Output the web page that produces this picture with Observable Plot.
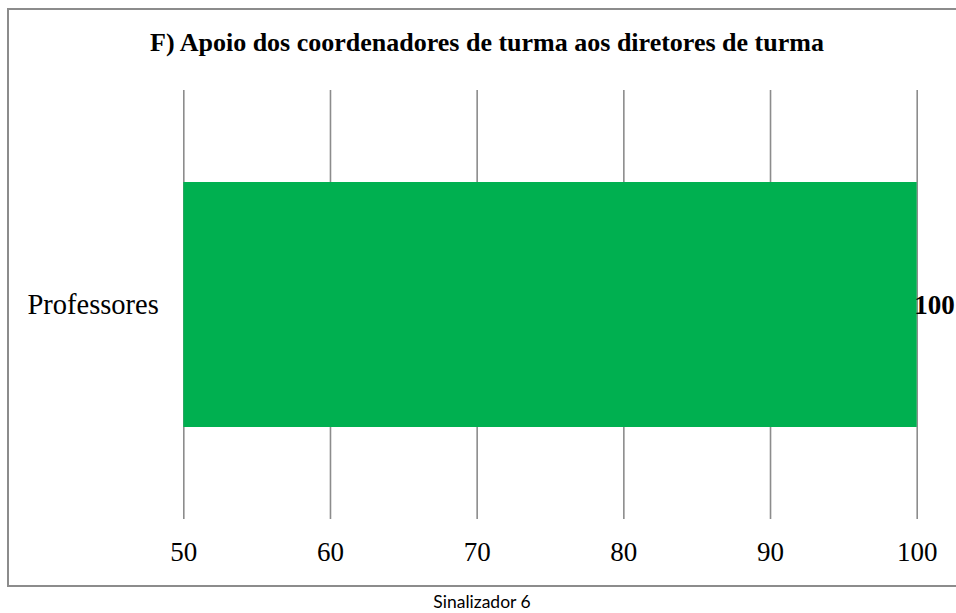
<!DOCTYPE html>
<html>
<head>
<meta charset="utf-8">
<script src="https://cdn.jsdelivr.net/npm/d3@7"></script>
<script src="https://cdn.jsdelivr.net/npm/@observablehq/plot@0.6"></script>
<style>
  html, body { margin: 0; padding: 0; background: #fff; }
  #wrap { position: relative; width: 956px; height: 613px; overflow: hidden; }
  #frame { position: absolute; left: 7px; top: 8px; width: 1000px; height: 575px; border: 2px solid #8c8c8c; box-sizing: content-box; }
  #title { position: absolute; left: 487px; top: 30px; transform: translateX(-50%); white-space: nowrap;
           font-family: "Liberation Serif", serif; font-weight: bold; font-size: 26px; line-height: 26px; color: #000; }
  #chart { position: absolute; left: 0; top: 0; }
  #caption { position: absolute; left: 482px; top: 592px; transform: translateX(-50%); white-space: nowrap;
             font-family: Lato, "Open Sans", sans-serif; font-size: 17.5px; line-height: 20px; color: #000; }
</style>
</head>
<body>
<div id="wrap">
  <div id="frame"></div>
  <div id="chart"></div>
  <div id="title"></div>
  <div id="caption"></div>
</div>
<script>
const titleText = "F) Apoio dos coordenadores de turma aos diretores de turma";
const captionText = "Sinalizador 6";
const categories = ["Professores"];
const values = [100];
const xDomain = [50, 100];
const xTicks = [50, 60, 70, 80, 90, 100];

const data = categories.map((c, i) => ({ cat: c, value: values[i] }));
const serif = "'Liberation Serif', serif";

document.getElementById("title").textContent = titleText;
document.getElementById("caption").textContent = captionText;

const chart = Plot.plot({
  width: 956,
  height: 613,
  marginLeft: 183.3,
  marginRight: 39.3,
  marginTop: 90,
  marginBottom: 94,
  style: { fontFamily: serif, fontSize: "27px", color: "#000", background: "transparent" },
  x: { domain: xDomain },
  y: { domain: categories, padding: 0.2727 },
  marks: [
    Plot.gridX(xTicks, { stroke: "#8c8c8c", strokeOpacity: 1, strokeWidth: 1.6 }),
    Plot.barX(data, { y: "cat", x1: xDomain[0], x2: "value", fill: "#00B050" }),
    Plot.text(data, { y: "cat", x: "value", text: d => String(d.value), textAnchor: "start", dx: -3,
      fontWeight: "bold", fontSize: 27, fontFamily: serif, fill: "#000" }),
    Plot.axisX(xTicks, { tickSize: 0, tickPadding: 22, fontSize: 27, fontFamily: serif, label: null }),
    Plot.axisY({ tickSize: 0, tickPadding: 25, fontSize: 28.5, fontFamily: serif, label: null })
  ]
});
document.getElementById("chart").appendChild(chart);
</script>
</body>
</html>
